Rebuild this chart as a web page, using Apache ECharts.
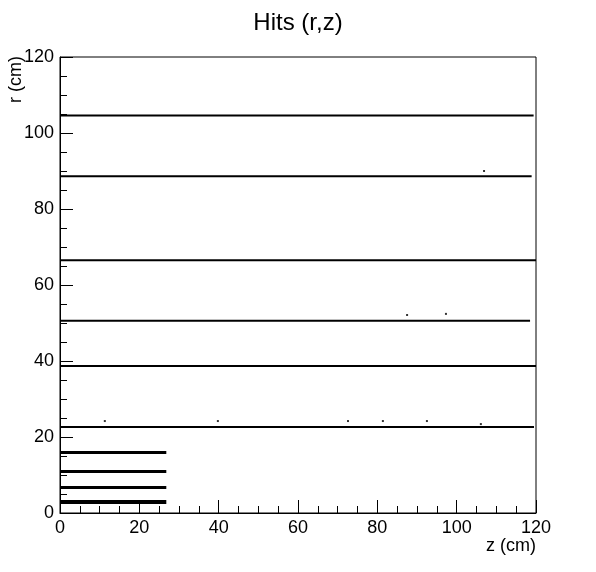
<!DOCTYPE html>
<html>
<head>
<meta charset="utf-8">
<script src="https://cdn.jsdelivr.net/npm/echarts@6/dist/echarts.min.js"></script>
<style>
  html, body { margin: 0; padding: 0; background: #fff; }
  #chart { width: 596px; height: 572px; }
</style>
</head>
<body>
<div id="chart"></div>
<script>
// barrel layers: radius and where the hits stop along z
const layerR = [104.6, 88.6, 66.5, 50.6, 38.7, 22.6];
const layerZEnd = [119.4, 118.9, 120, 118.5, 120, 119.5];
// short inner layers
const innerR = [15.9, 10.9, 6.7, 2.9];
const innerZEnd = 26.8;
// isolated hits
const strayZ = [11.3, 39.8, 72.6, 81.4, 92.5, 106.1, 87.5, 97.3, 106.9];
const strayR = [24.2, 24.2, 24.2, 24.2, 24.2, 23.4, 52.1, 52.4, 90.0];
const ticks = [0, 20, 40, 60, 80, 100, 120];

const font = 'Liberation Sans, Arial, sans-serif';
const series = [];

layerR.forEach(function (r, i) {
    series.push({
        type: 'line',
        data: [[0, r], [layerZEnd[i], r]],
        symbol: 'none',
        silent: true,
        lineStyle: { color: '#000', width: 2 }
    });
});

innerR.forEach(function (r, i) {
    series.push({
        type: 'line',
        data: [[0, r], [innerZEnd, r]],
        symbol: 'none',
        silent: true,
        lineStyle: { color: '#000', width: i === innerR.length - 1 ? 4 : 3 }
    });
});

series.push({
    type: 'scatter',
    data: strayZ.map(function (z, i) { return [z, strayR[i]]; }),
    symbol: 'rect',
    symbolSize: 2,
    itemStyle: { color: '#000' }
});

function axis(extra) {
    return Object.assign({
        type: 'value',
        min: ticks[0],
        max: ticks[ticks.length - 1],
        interval: ticks[1] - ticks[0],
        axisLine: { show: true, onZero: false, lineStyle: { color: '#000', width: 1 } },
        axisTick: { show: true, inside: true, length: 13, lineStyle: { color: '#000' } },
        minorTick: { show: true, splitNumber: 4, length: 7, lineStyle: { color: '#000' } },
        splitLine: { show: false },
        axisLabel: { color: '#000', fontSize: 18, fontFamily: font }
    }, extra);
}

const chart = echarts.init(document.getElementById('chart'));
chart.setOption({
    animation: false,
    backgroundColor: '#fff',
    title: {
        text: 'Hits (r,z)',
        left: 'center',
        top: 6,
        textStyle: { fontSize: 24, fontWeight: 'normal', fontFamily: font, color: '#000' }
    },
    grid: {
        left: 60, top: 57, width: 476, height: 456,
        show: true, borderColor: '#000', borderWidth: 1, backgroundColor: 'transparent'
    },
    xAxis: axis({ axisLabel: { color: '#000', fontSize: 18, fontFamily: font, margin: 6 } }),
    yAxis: axis({ axisLabel: { color: '#000', fontSize: 18, fontFamily: font, margin: 6 } }),
    graphic: [
        {
            type: 'text',
            x: 536, y: 546,
            style: { text: 'z (cm)', font: '18px ' + font, fill: '#000', textAlign: 'right', textVerticalAlign: 'middle' }
        },
        {
            type: 'text',
            x: 16, y: 56,
            rotation: Math.PI / 2,
            style: { text: 'r (cm)', font: '18px ' + font, fill: '#000', textAlign: 'right', textVerticalAlign: 'middle' }
        }
    ],
    series: series
});
</script>
</body>
</html>
